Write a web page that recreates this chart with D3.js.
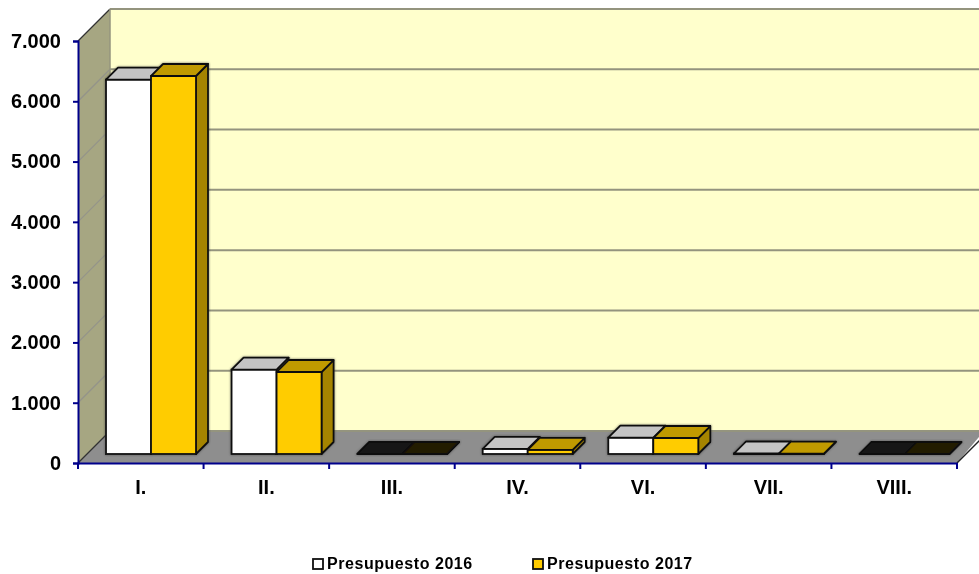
<!DOCTYPE html>
<html>

<head>
    <meta charset="utf-8">
    <style>
        body {
            margin: 0;
            background: #fff;
        }

        svg {
            display: block;
            font-family: 'Liberation Sans', Arial, sans-serif;
            font-weight: bold;
            color: #000;
        }

        .axis path,
        .axis line {
            stroke: #00008b;
            stroke-width: 2px;
        }

        .axis text {
            fill: #000;
            font-family: 'Liberation Sans', Arial, sans-serif;
            font-weight: bold;
        }

        .legend text {
            font-size: 16px;
            letter-spacing: 0.55px;
        }
    </style>
</head>

<body>
    <svg width="979" height="574"></svg>

    <script src="https://d3js.org/d3.v7.min.js"></script>
    <script>
        // values
        let categories = ["I.", "II.", "III.", "IV.", "VI.", "VII.", "VIII."];
        let seriesNames = ["Presupuesto 2016", "Presupuesto 2017"];
        let values2016 = [6210, 1400, 0, 85, 270, 8, 0];
        let values2017 = [6270, 1360, 0, 70, 265, 6, 0];
        let yTicks = [0, 1000, 2000, 3000, 4000, 5000, 6000, 7000];

        let width = 979;
        let height = 574;
        let svg = d3.select("svg");

        // layout of the fake 3d box
        let plot = { left: 78, right: 957, top: 41, bottom: 463 };
        let depth = 32;
        let barLift = 9;
        let barDepth = 12;
        let barWidth = 45;

        let colors = [
            { front: "#ffffff", top: "#c4c4c4", side: "#a0a0a0" },
            { front: "#ffcc00", top: "#c09a00", side: "#a58400" }
        ];
        let zeroColors = ["#161616", "#211a00"];

        let x = d3.scaleBand().domain(categories).range([plot.left, plot.right]);
        let y = d3.scaleLinear().domain([0, 7000]).range([plot.bottom, plot.top]);

        let defs = svg.append("defs");
        defs.append("filter").attr("id", "soft")
            .attr("x", "-2%").attr("y", "-2%").attr("width", "104%").attr("height", "104%")
            .append("feGaussianBlur").attr("stdDeviation", 0.55);

        let shadow = defs.append("filter").attr("id", "halo")
            .attr("x", "-5%").attr("y", "-5%").attr("width", "110%").attr("height", "110%");
        shadow.append("feDropShadow")
            .attr("dx", 0).attr("dy", 0).attr("stdDeviation", 1.2)
            .attr("flood-color", "#333").attr("flood-opacity", 0.7);

        let root = svg.append("g").attr("filter", "url(#soft)");

        // walls and floor
        let pts = p => p.map(d => d.join(",")).join(" ");

        root.append("polygon")
            .attr("points", pts([[plot.left + depth, y(7000) - depth], [width + 5, y(7000) - depth], [width + 5, y(0) - depth], [plot.left + depth, y(0) - depth]]))
            .attr("fill", "#ffffcc");
        root.append("polygon")
            .attr("points", pts([[plot.left, y(7000)], [plot.left + depth, y(7000) - depth], [plot.left + depth, y(0) - depth], [plot.left, y(0)]]))
            .attr("fill", "#a6a682");
        root.append("polygon")
            .attr("points", pts([[plot.left, y(0)], [plot.left + depth, y(0) - depth], [width + 5, y(0) - depth], [plot.right, y(0)]]))
            .attr("fill", "#8e8e8e");

        // gridlines, back wall and the diagonal on the side wall
        root.append("g").selectAll("line.back")
            .data(yTicks)
            .join("line")
            .attr("class", "back")
            .attr("x1", plot.left + depth)
            .attr("x2", width + 5)
            .attr("y1", d => y(d) - depth)
            .attr("y2", d => y(d) - depth)
            .attr("stroke", "#94947e")
            .attr("stroke-width", 2);

        root.append("g").selectAll("line.diag")
            .data(yTicks)
            .join("line")
            .attr("class", "diag")
            .attr("x1", plot.left)
            .attr("x2", plot.left + depth)
            .attr("y1", d => y(d))
            .attr("y2", d => y(d) - depth)
            .attr("stroke", d => d == 7000 || d == 0 ? "#333" : "#94948a")
            .attr("stroke-width", 1.2);

        root.append("line")
            .attr("x1", plot.left + depth).attr("x2", plot.left + depth)
            .attr("y1", y(7000) - depth).attr("y2", y(0) - depth)
            .attr("stroke", "#94947e").attr("stroke-width", 1.5);

        root.append("line")
            .attr("x1", plot.right).attr("x2", width + 5)
            .attr("y1", y(0)).attr("y2", y(0) - (width + 5 - plot.right))
            .attr("stroke", "#222").attr("stroke-width", 1.5);

        // bars
        let rows = [];
        categories.forEach((c, i) => {
            rows.push({ cat: c, s: 0, value: values2016[i] });
            rows.push({ cat: c, s: 1, value: values2017[i] });
        });

        let barX = d => x(d.cat) + 28 + d.s * barWidth;
        let barY = d => y(d.value) - barLift;
        let base = y(0) - barLift;

        let bars = root.append("g")
            .attr("filter", "url(#halo)")
            .selectAll("g")
            .data(rows)
            .join("g");

        bars.append("polygon")
            .attr("points", d => {
                let x1 = barX(d) + barWidth;
                return pts([[x1, barY(d)], [x1 + barDepth, barY(d) - barDepth], [x1 + barDepth, base - barDepth], [x1, base]]);
            })
            .attr("fill", d => d.value == 0 ? zeroColors[d.s] : colors[d.s].side)
            .attr("stroke", "#111")
            .attr("stroke-width", 1.8)
            .attr("stroke-linejoin", "round");

        bars.append("rect")
            .attr("x", barX)
            .attr("y", barY)
            .attr("width", barWidth)
            .attr("height", d => base - barY(d))
            .attr("fill", d => colors[d.s].front)
            .attr("stroke", "#111")
            .attr("stroke-width", 1.8);

        bars.append("polygon")
            .attr("points", d => {
                let x0 = barX(d);
                return pts([[x0, barY(d)], [x0 + barDepth, barY(d) - barDepth], [x0 + barWidth + barDepth, barY(d) - barDepth], [x0 + barWidth, barY(d)]]);
            })
            .attr("fill", d => d.value == 0 ? zeroColors[d.s] : colors[d.s].top)
            .attr("stroke", "#111")
            .attr("stroke-width", 1.8)
            .attr("stroke-linejoin", "round");

        // axes
        let yAxis = d3.axisLeft(y)
            .tickValues(yTicks)
            .tickSize(5)
            .tickFormat(d => d3.format(",")(d).replace(",", "."));

        let yG = root.append("g")
            .attr("class", "axis")
            .attr("transform", `translate(${plot.left},0)`)
            .call(yAxis);
        yG.selectAll("text").attr("font-size", 20).attr("x", -17);

        let xAxis = d3.axisBottom(x).tickSize(0).tickSizeOuter(0);
        let xG = root.append("g")
            .attr("class", "axis")
            .attr("transform", `translate(0,${plot.bottom})`)
            .call(xAxis);
        xG.selectAll("text").attr("font-size", 20).attr("y", 17);

        xG.selectAll("line.edge")
            .data(categories.map(c => x(c)).concat([plot.right]))
            .join("line")
            .attr("class", "edge")
            .attr("x1", d => d).attr("x2", d => d)
            .attr("y1", 0).attr("y2", 6);

        // legend
        let legend = svg.append("g").attr("class", "legend").attr("filter", "url(#soft)");
        let legendX = d3.scaleOrdinal().domain(seriesNames).range([313, 533]);

        legend.selectAll("rect")
            .data(seriesNames)
            .join("rect")
            .attr("x", d => legendX(d))
            .attr("y", 559)
            .attr("width", 10)
            .attr("height", 10)
            .attr("fill", (d, i) => colors[i].front)
            .attr("stroke", "#111")
            .attr("stroke-width", 1.8);

        legend.selectAll("text")
            .data(seriesNames)
            .join("text")
            .attr("x", d => legendX(d) + 14)
            .attr("y", 569)
            .text(d => d);
    </script>
</body>

</html>
